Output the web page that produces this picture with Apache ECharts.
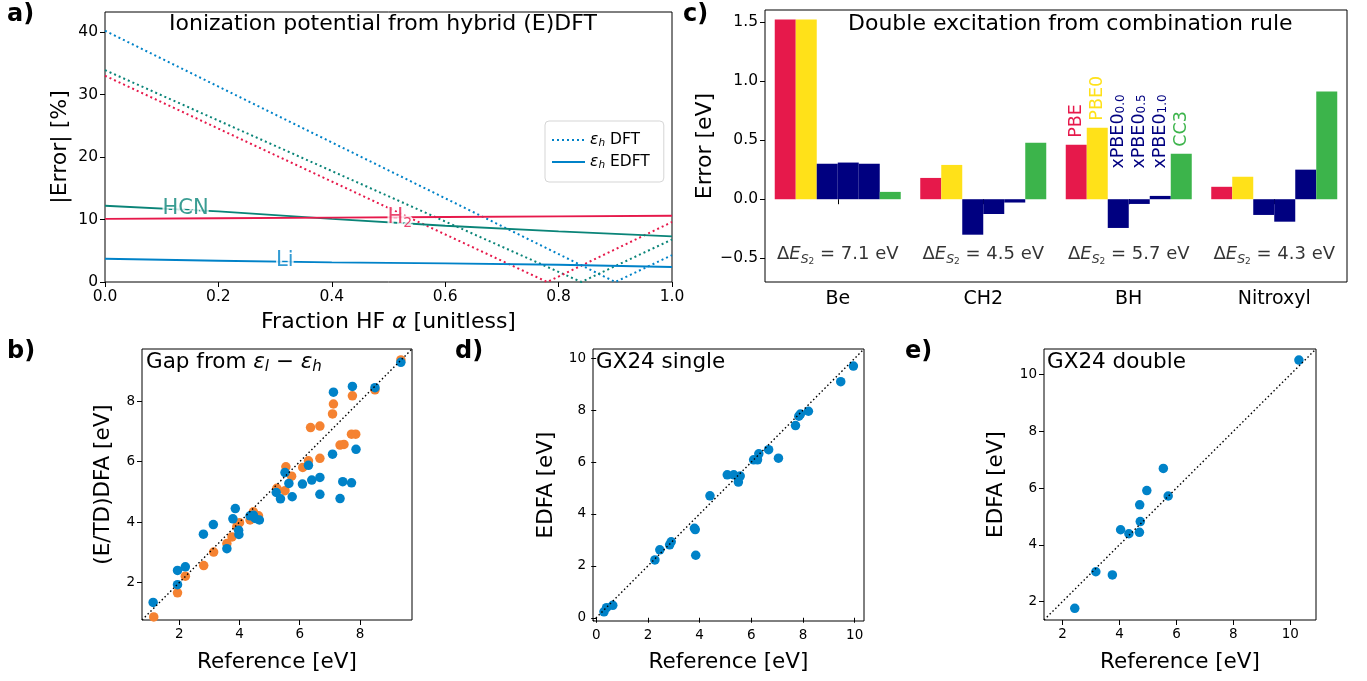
<!DOCTYPE html>
<html><head><meta charset="utf-8">
<script src="https://cdn.jsdelivr.net/npm/echarts@6/dist/echarts.min.js"></script>
<style>html,body{margin:0;padding:0;background:#fff}#chart{width:1367px;height:681px}</style>
</head><body><div id="chart"></div>
<script>
// ---------- Panel a: ionization potential errors ----------
const alphaTicks = [0, 0.2, 0.4, 0.6, 0.8, 1.0];
const errTicks = [0, 10, 20, 30, 40];
const alphaGrid = [0, 0.2, 0.4, 0.6, 0.8, 1.0];
const liDFT = [[0, 40.2], [0.90, 0], [1.0, 4.3]];
const hcnDFT = [[0, 33.9], [0.84, 0], [1.0, 6.8]];
const h2DFT = [[0, 33.0], [0.78, 0], [1.0, 9.6]];
const hcnEDFT = [12.2, 11.3, 10.1, 9.0, 8.1, 7.3];
const h2EDFT = [10.1, 10.2, 10.3, 10.4, 10.5, 10.6];
const liEDFT = [3.72, 3.40, 3.14, 2.98, 2.77, 2.40];

// ---------- Panel c: double excitation errors ----------
const molecules = ['Be', 'CH2', 'BH', 'Nitroxyl'];
const errPBE = [1.52, 0.18, 0.46, 0.105];
const errPBE0 = [1.52, 0.29, 0.605, 0.19];
const errXPBE00 = [0.30, -0.30, -0.243, -0.133];
const errXPBE05 = [0.31, -0.125, -0.04, -0.19];
const errXPBE10 = [0.30, -0.028, 0.028, 0.25];
const errCC3 = [0.062, 0.478, 0.385, 0.91];
const deltaES2 = [7.1, 4.5, 5.7, 4.3];
const errTicksC = [-0.5, 0, 0.5, 1.0, 1.5];

// ---------- Panel b: gap from eps_l - eps_h (reference, DFA) ----------
const gapOrange = [[1.15,0.86],[1.94,1.66],[2.20,2.21],[2.81,2.56],[3.14,3.01],[3.58,3.29],[3.75,3.51],[3.91,3.85],[4.00,3.98],[4.35,4.07],[4.46,4.34],[4.63,4.21],[5.24,5.12],[5.51,5.04],[5.54,5.83],[5.73,5.52],[6.10,5.81],[6.29,6.03],[6.67,6.11],[6.36,7.13],[6.67,7.18],[7.09,7.58],[7.12,7.91],[7.34,6.55],[7.47,6.57],[7.72,6.91],[7.86,6.91],[7.75,8.18],[8.50,8.38],[9.36,9.37]];
const gapBlue = [[1.13,1.34],[1.94,1.93],[1.94,2.40],[2.20,2.52],[2.80,3.60],[3.13,3.92],[3.58,3.12],[3.78,4.11],[3.86,4.45],[3.97,3.73],[3.98,3.59],[4.35,4.21],[4.46,4.23],[4.52,4.12],[4.66,4.07],[5.22,4.98],[5.36,4.77],[5.51,5.64],[5.64,5.28],[5.75,4.84],[6.09,5.26],[6.29,5.88],[6.40,5.39],[6.67,5.48],[6.67,4.92],[7.09,6.25],[7.12,8.30],[7.34,4.78],[7.43,5.34],[7.72,5.30],[7.75,8.49],[7.87,6.41],[8.50,8.45],[9.36,9.29]];
const ticksB = [2, 4, 6, 8];
const limB = [0.76, 9.73];

// ---------- Panel d: GX24 single ----------
const gx24Single = [[0.30,0.23],[0.40,0.39],[0.64,0.48],[2.27,2.23],[2.46,2.62],[2.84,2.81],[2.90,2.93],[3.80,3.45],[3.83,3.40],[3.85,2.41],[4.40,4.70],[5.07,5.51],[5.32,5.51],[5.50,5.23],[5.57,5.46],[6.09,6.09],[6.24,6.09],[6.29,6.32],[6.67,6.48],[7.05,6.15],[7.71,7.41],[7.84,7.77],[7.90,7.85],[8.21,7.96],[9.46,9.10],[9.95,9.70]];
const ticksD = [0, 2, 4, 6, 8, 10];
const limD = [-0.125, 10.36];

// ---------- Panel e: GX24 double ----------
const gx24Double = [[2.43,1.76],[3.17,3.05],[3.75,2.94],[4.04,4.53],[4.33,4.39],[4.70,4.44],[4.73,4.82],[4.71,5.41],[4.96,5.91],[5.54,6.69],[5.71,5.72],[10.30,10.51]];
const ticksE = [2, 4, 6, 8, 10];
const limE = [1.35, 10.9];

// ---------- styling ----------
const FONT = 'DejaVu Sans';
const BLUE = '#0082c8', TEAL = '#0a8478', RED = '#e6194b', YELLOW = '#ffe119', NAVY = '#000080', GREEN = '#3cb44b', ORANGE = '#f58231';
const zip = (xs, ys) => xs.map((x, i) => [x, ys[i]]);

function vAxis(o) {
  return {
    type: 'value', gridIndex: o.grid, min: o.min, max: o.max, position: o.pos,
    name: o.name, nameLocation: 'middle', nameGap: o.gap,
    nameTextStyle: {fontSize: o.nameSize, color: '#000', fontFamily: FONT},
    axisLine: {show: false}, splitLine: {show: false},
    axisTick: {show: true, length: 5, lineStyle: {color: '#000', width: 1}, customValues: o.ticks},
    axisLabel: {customValues: o.ticks, fontSize: o.size, color: '#000', margin: 7, fontFamily: FONT, formatter: o.fmt}
  };
}
const minus = v => (v < 0 ? '\u2212' : '') + Math.abs(v).toFixed(1);

const chart = echarts.init(document.getElementById('chart'));
const gridBase = {show: true, borderColor: '#000', borderWidth: 1, backgroundColor: 'transparent', containLabel: false};

const methods = [
  {name: 'PBE', data: errPBE, color: RED, text: 'PBE'},
  {name: 'PBE0', data: errPBE0, color: YELLOW, text: 'PBE0'},
  {name: 'xPBE0 0.0', data: errXPBE00, color: NAVY, text: 'xPBE0{s|0.0}'},
  {name: 'xPBE0 0.5', data: errXPBE05, color: NAVY, text: 'xPBE0{s|0.5}'},
  {name: 'xPBE0 1.0', data: errXPBE10, color: NAVY, text: 'xPBE0{s|1.0}'},
  {name: 'CC3', data: errCC3, color: GREEN, text: 'CC3'}
];
const CAT_GAP = 0.134;

const dotted = (c) => ({color: c, width: 2, type: [2, 3]});
const solid = (c) => ({color: c, width: 2});
const diag = (xi, lim) => ({
  type: 'line', xAxisIndex: xi, yAxisIndex: xi, data: [[lim[0], lim[0]], [lim[1], lim[1]]],
  symbol: 'none', z: 5, silent: true, lineStyle: {color: '#000', width: 1.4, type: [1.5, 2.5]}
});
const scat = (xi, data, color) => ({
  type: 'scatter', xAxisIndex: xi, yAxisIndex: xi, data: data, symbolSize: 9.5, z: 3,
  itemStyle: {color: color, opacity: 1}
});

const curveLabel = (x, y, text, color) => ({
  value: [x, y],
  label: {show: true, position: 'inside', formatter: text, color: color, fontSize: 21, fontFamily: FONT,
          textBorderColor: '#fff', textBorderWidth: 4,
          rich: {n: {fontSize: 21, color: color, lineHeight: 26, textBorderColor: '#fff', textBorderWidth: 4},
                 s: {fontSize: 14, color: color, lineHeight: 14, verticalAlign: 'bottom', textBorderColor: '#fff', textBorderWidth: 4}}}
});

const series = [
  {type: 'line', name: 'dft', xAxisIndex: 0, yAxisIndex: 0, data: liDFT, symbol: 'none', lineStyle: dotted(BLUE), itemStyle: {color: BLUE}, z: 2},
  {type: 'line', name: 'hcnDFT', xAxisIndex: 0, yAxisIndex: 0, data: hcnDFT, symbol: 'none', lineStyle: dotted(TEAL), itemStyle: {color: TEAL}, z: 2},
  {type: 'line', name: 'h2DFT', xAxisIndex: 0, yAxisIndex: 0, data: h2DFT, symbol: 'none', lineStyle: dotted(RED), itemStyle: {color: RED}, z: 2},
  {type: 'line', name: 'edft', xAxisIndex: 0, yAxisIndex: 0, data: zip(alphaGrid, liEDFT), symbol: 'none', lineStyle: solid(BLUE), itemStyle: {color: BLUE}, z: 2},
  {type: 'line', name: 'hcnEDFT', xAxisIndex: 0, yAxisIndex: 0, data: zip(alphaGrid, hcnEDFT), symbol: 'none', lineStyle: solid(TEAL), itemStyle: {color: TEAL}, z: 2},
  {type: 'line', name: 'h2EDFT', xAxisIndex: 0, yAxisIndex: 0, data: zip(alphaGrid, h2EDFT), symbol: 'none', lineStyle: solid(RED), itemStyle: {color: RED}, z: 2},
  {type: 'scatter', name: 'curveLabels', xAxisIndex: 0, yAxisIndex: 0, symbolSize: 0, z: 4, silent: true,
   data: [curveLabel(0.142, 11.8, 'HCN', TEAL), curveLabel(0.52, 10.35, '{n|H}{s|2}', RED), curveLabel(0.317, 3.4, 'Li', BLUE)]}
];
methods.forEach(m => series.push({
  type: 'bar', name: m.name, xAxisIndex: 1, yAxisIndex: 1, data: m.data,
  itemStyle: {color: m.color}, barGap: '0%', barCategoryGap: (CAT_GAP * 100) + '%'
}));
series.push({
  type: 'scatter', name: 'deltaLabels', xAxisIndex: 1, yAxisIndex: 1, symbolSize: 0, silent: true, z: 4,
  data: molecules.map(m => [m, -0.465]),
  label: {show: true, position: 'inside', color: '#000', fontFamily: FONT,
    formatter: p => '{n|Δ}{i|E}{s|S}{ss|2}{n| = ' + deltaES2[p.dataIndex].toFixed(1) + ' eV}',
    rich: {n: {fontSize: 18, lineHeight: 24, color: '#000'},
           i: {fontSize: 18, lineHeight: 24, fontStyle: 'italic', color: '#000'},
           s: {fontSize: 12.5, lineHeight: 13, fontStyle: 'italic', verticalAlign: 'bottom', color: '#000'},
           ss: {fontSize: 9, lineHeight: 6, verticalAlign: 'bottom', color: '#000'}}}
});
series.push(scat(2, gapOrange, ORANGE), scat(2, gapBlue, BLUE), diag(2, limB));
series.push(scat(3, gx24Single, BLUE), diag(3, limD));
series.push(scat(4, gx24Double, BLUE), diag(4, limE));

const T = (x, y, text, size, extra) => Object.assign({type: 'text', x: x, y: y, z: 10, silent: true,
  style: Object.assign({text: text, fontSize: size, fontFamily: FONT, fill: '#000',
    align: 'left', verticalAlign: 'middle', textAlign: 'left', textVerticalAlign: 'middle'}, extra || {})});

const graphics = [
  T(7, 15, 'a)', 24, {fontWeight: 'bold'}),
  T(683, 15, 'c)', 24, {fontWeight: 'bold'}),
  T(7, 352, 'b)', 24, {fontWeight: 'bold'}),
  T(455, 352, 'd)', 24, {fontWeight: 'bold'}),
  T(905, 352, 'e)', 24, {fontWeight: 'bold'}),
  T(383, 24, 'Ionization potential from hybrid (E)DFT', 22, {align: 'center', textAlign: 'center'}),
  T(848, 24, 'Double excitation from combination rule', 22),
  T(146, 362, '{n|Gap from }{e|ε}{s|l}{n| − }{e|ε}{s|h}', 21.5, {rich: {
      n: {fontSize: 21.5, fontFamily: FONT, lineHeight: 26},
      e: {fontSize: 21.5, fontFamily: FONT, fontStyle: 'italic', lineHeight: 26},
      s: {fontSize: 15, fontFamily: FONT, fontStyle: 'italic', lineHeight: 15, verticalAlign: 'bottom'}}}),
  T(596, 362, 'GX24 single', 21.5),
  T(1047, 362, 'GX24 double', 21.5)
];

const option = {
  animation: false,
  textStyle: {fontFamily: FONT},
  grid: [
    Object.assign({left: 105, top: 12, width: 567, height: 270}, gridBase),
    Object.assign({left: 765, top: 10, width: 582, height: 272}, gridBase),
    Object.assign({left: 142, top: 349, width: 270, height: 271}, gridBase),
    Object.assign({left: 593, top: 349, width: 271, height: 272}, gridBase),
    Object.assign({left: 1044, top: 349, width: 272, height: 271}, gridBase)
  ],
  xAxis: [
    vAxis({grid: 0, min: 0, max: 1, pos: 'bottom', ticks: alphaTicks, fmt: v => v.toFixed(1), size: 15.5,
           name: 'Fraction HF {a|α} [unitless]', gap: 29, nameSize: 22}),
    {type: 'category', gridIndex: 1, data: molecules, position: 'bottom',
     axisLine: {show: false}, splitLine: {show: false},
     axisTick: {show: true, alignWithLabel: true, length: 5, lineStyle: {color: '#000'}},
     axisLabel: {fontSize: 19, color: '#000', margin: 8, fontFamily: FONT}},
    vAxis({grid: 2, min: limB[0], max: limB[1], pos: 'bottom', ticks: ticksB, fmt: v => String(v), size: 13.5,
           name: 'Reference [eV]', gap: 31, nameSize: 21.5}),
    vAxis({grid: 3, min: limD[0], max: limD[1], pos: 'bottom', ticks: ticksD, fmt: v => String(v), size: 13.5,
           name: 'Reference [eV]', gap: 30, nameSize: 21.5}),
    vAxis({grid: 4, min: limE[0], max: limE[1], pos: 'bottom', ticks: ticksE, fmt: v => String(v), size: 13.5,
           name: 'Reference [eV]', gap: 31, nameSize: 21.5})
  ],
  yAxis: [
    vAxis({grid: 0, min: 0, max: 43.2, pos: 'left', ticks: errTicks, fmt: v => String(v), size: 15.5,
           name: '|Error| [%]', gap: 34, nameSize: 22}),
    vAxis({grid: 1, min: -0.7, max: 1.6, pos: 'left', ticks: errTicksC, fmt: minus, size: 15.5,
           name: 'Error [eV]', gap: 32, nameSize: 22}),
    vAxis({grid: 2, min: limB[0], max: limB[1], pos: 'left', ticks: ticksB, fmt: v => String(v), size: 13.5,
           name: '(E/TD)DFA [eV]', gap: 28, nameSize: 21.5}),
    vAxis({grid: 3, min: limD[0], max: limD[1], pos: 'left', ticks: ticksD, fmt: v => String(v), size: 13.5,
           name: 'EDFA [eV]', gap: 36, nameSize: 21.5}),
    vAxis({grid: 4, min: limE[0], max: limE[1], pos: 'left', ticks: ticksE, fmt: v => String(v), size: 13.5,
           name: 'EDFA [eV]', gap: 37, nameSize: 21.5})
  ],
  legend: {
    show: true, orient: 'vertical', left: 545, top: 121, data: ['dft', 'edft'],
    itemWidth: 33, itemHeight: 14, itemGap: 5, padding: [11, 14, 11, 6],
    itemStyle: {opacity: 0},
    backgroundColor: '#fff', borderColor: '#d5d5d5', borderWidth: 1, borderRadius: 4,
    selectedMode: false,
    formatter: n => n === 'dft' ? '{e|ε}{s|h}{n| DFT}' : '{e|ε}{s|h}{n| EDFT}',
    textStyle: {fontSize: 15.5, color: '#000', fontFamily: FONT, rich: {
      n: {fontSize: 15.5, fontFamily: FONT, lineHeight: 18},
      e: {fontSize: 15.5, fontFamily: FONT, fontStyle: 'italic', lineHeight: 18},
      s: {fontSize: 10.5, fontFamily: FONT, fontStyle: 'italic', lineHeight: 10, verticalAlign: 'bottom'}}}
  },
  series: series,
  graphic: graphics
};
option.xAxis[0].nameTextStyle.rich = {a: {fontSize: 22, fontStyle: 'italic', fontFamily: FONT}};
chart.setOption(option);

// method labels above the BH bars, placed through the chart's own scales
const band = 582 / molecules.length;
const barW = band * (1 - CAT_GAP) / methods.length;
const bh = molecules.indexOf('BH');
const extra = methods.map((m, i) => {
  const v = m.data[bh];
  const p = chart.convertToPixel({xAxisIndex: 1, yAxisIndex: 1}, ['BH', Math.max(v, 0.2)]);
  return {type: 'text', x: p[0] + (i - 2.5) * barW, y: p[1] - 7, rotation: Math.PI / 2, z: 10, silent: true,
    style: {text: m.text, fill: m.color, fontSize: 17.5, fontFamily: FONT,
      align: 'left', verticalAlign: 'middle', textAlign: 'left', textVerticalAlign: 'middle',
      rich: {s: {fontSize: 12, fill: m.color, fontFamily: FONT, lineHeight: 12, verticalAlign: 'bottom'}}}};
});
chart.setOption({graphic: graphics.concat(extra)});
</script></body></html>
